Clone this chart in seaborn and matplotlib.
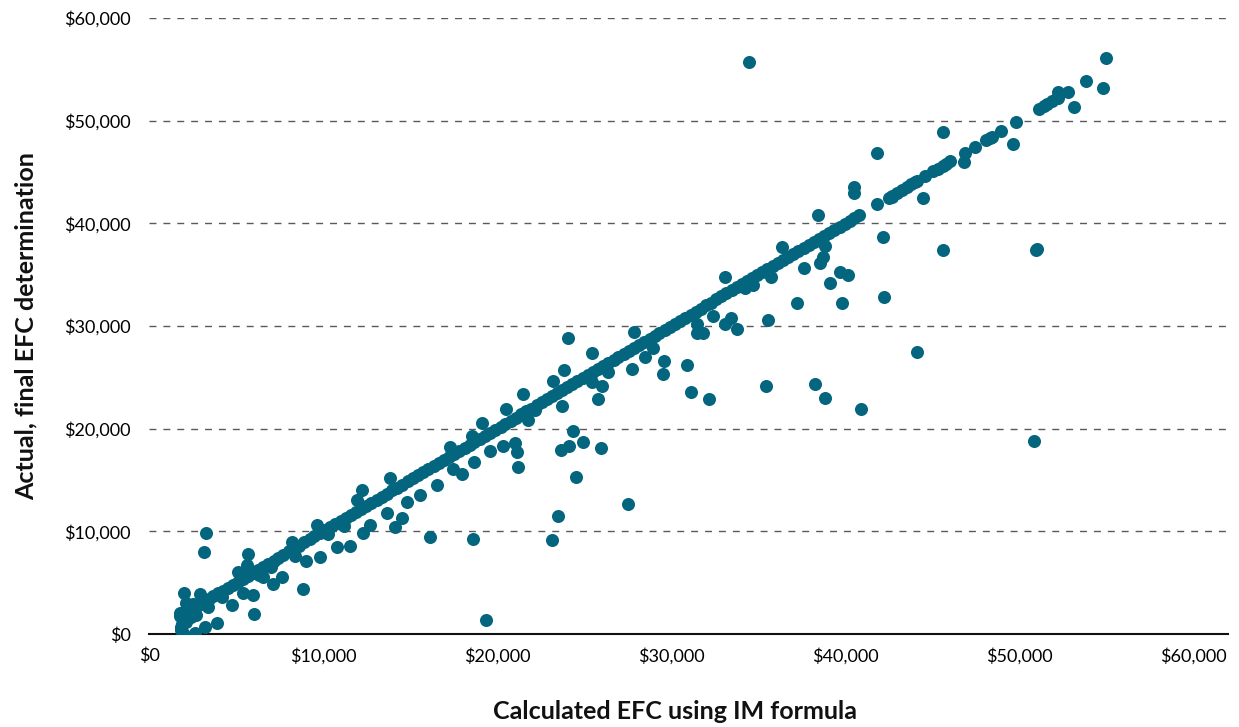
import matplotlib
matplotlib.use("Agg")
import matplotlib.pyplot as plt
import matplotlib.ticker
import seaborn as sns
import pandas as pd

# cases where the final EFC equals the IM formula EFC (points on the diagonal)
matched_efc = [
    1800, 1950, 2080, 2230, 2370, 2560, 2740, 2950, 3180, 3420, 3690, 3950,
    4230, 4520, 4800, 5090, 5400, 5680, 5960, 6270, 6550, 6850, 7160, 7430,
    7720, 8040, 8330, 8610, 8920, 9230, 9500, 9800, 10120, 10400, 10690, 11010,
    11300, 11580, 11900, 12190, 12470, 12780, 13090, 13380, 13660, 13980,
    14270, 14550, 14860, 15170, 15450, 15760, 16040, 16350, 16640, 16930,
    17240, 17530, 17810, 18130, 18420, 18700, 19010, 19320, 19600, 19890,
    20200, 20480, 20790, 21080, 21390, 21680, 21960, 22270, 22560, 22850,
    23160, 23450, 23730, 24040, 24330, 24620, 24930, 25210, 25520, 25800,
    26090, 26400, 26690, 26970, 27280, 27570, 27860, 28170, 28450, 28760,
    29050, 29330, 29640, 29930, 30220, 30530, 30810, 31120, 31410, 31700,
    32010, 32290, 32600, 32880, 33170, 33480, 33770, 34060, 34370, 34650,
    34960, 35240, 35530, 35840, 36130, 36420, 36730, 37010, 37320, 37610,
    37900, 38210, 38490, 38800, 39090, 39380, 39690, 39970, 40260, 40500,
    40800, 41840, 42500, 42700, 43000, 43250, 43560, 43800, 44000, 44140,
    44600, 45060, 45340, 45630, 45820, 46030, 46900, 47470, 48100, 48300,
    48450, 48970, 49830, 51150, 51400, 51610, 51900, 52240, 53850,
]

# cases where the two EFC values differ
calc_efc = [
    1780, 1850, 1900, 1950, 2000, 2010, 2100, 2200, 2300, 2400, 2640, 2930,
    3160, 3220, 3280, 3910, 4770, 5110, 5400, 5630, 5690, 5980, 6030, 6550,
    7130, 7640, 8220, 8850, 9020, 9660, 9830, 10800, 11550, 11950, 12240,
    12300, 12700, 13680, 13850, 14140, 14540, 14830, 15570, 16150, 16550,
    17300, 17470, 17990, 18560, 18620, 18680, 19140, 19370, 19600, 20340,
    20520, 21030, 21150, 21200, 21490, 21780, 22180, 23160, 23220, 23500,
    23680, 23740, 23850, 24080, 24140, 24370, 24540, 24940, 25460, 25460,
    25800, 25980, 26030, 26380, 27530, 27760, 27870, 28510, 28970, 29540,
    29600, 30920, 31150, 31490, 31490, 31840, 32180, 32410, 33100, 33100,
    33450, 33790, 34250, 34490, 34710, 35460, 35570, 35750, 36380, 37240,
    37640, 38280, 38450, 38560, 38740, 38850, 38850, 39140, 39710, 39830,
    40170, 40520, 40520, 40920, 41840, 42180, 42240, 42700, 44140, 44480,
    45630, 45630, 46840, 49660, 50860, 50980, 51000, 52180, 52240, 52820,
    53160, 54830, 55000,
    1820, 2150, 2500, 2700, 3400, 4200, 6300, 7000, 8400, 10300, 11200,
]
actual_efc = [
    2040, 400, 1000, 100, 1500, 3990, 3000, 2600, 2100, 1700, 100, 3900,
    7980, 680, 9830, 1070, 2820, 6040, 3990, 6720, 7790, 3800, 1950, 5550,
    4870, 5550, 8960, 4380, 7110, 10610, 7500, 8470, 8570, 13050, 14020,
    9830, 10610, 11780, 15190, 10420, 11290, 12850, 13530, 9440, 14510,
    18210, 16070, 15580, 19280, 9250, 16750, 20550, 1360, 17820, 18310,
    21900, 18600, 17720, 16260, 23370, 20840, 21810, 9150, 24640, 11490,
    17920, 22200, 25710, 28820, 18310, 19770, 15290, 18700, 24540, 27360,
    22880, 18110, 24150, 25510, 12660, 25800, 29400, 26970, 27850, 25320,
    26580, 26190, 23560, 29310, 30180, 29310, 22880, 30960, 30180, 34760,
    30770, 29700, 33690, 55700, 33980, 24150, 30570, 34760, 37680, 32230,
    35640, 24340, 40800, 36120, 36710, 37780, 22980, 34180, 35250, 32230,
    34960, 43530, 42940, 21910, 46840, 38660, 32810, 42550, 27460, 42450,
    37390, 48880, 45960, 47710, 18790, 37390, 37500, 52190, 52780, 52780,
    51320, 53170, 56090,
    700, 1200, 2900, 1900, 2600, 3600, 5700, 6500, 7600, 9700, 10500,
]

x_ticks = [0, 10000, 20000, 30000, 40000, 50000, 60000]
y_ticks = [0, 10000, 20000, 30000, 40000, 50000, 60000]

df = pd.DataFrame({
    "calculated": matched_efc + calc_efc,
    "actual": matched_efc + actual_efc,
})

sns.set_style("white")
plt.rcParams["font.family"] = ["Lato", "DejaVu Sans"]

fig = plt.figure(figsize=(12.39, 7.27), dpi=100)
ax = fig.add_axes([0.1203, 0.1279, 0.8708, 0.8473])

sns.scatterplot(data=df, x="calculated", y="actual", color="#03657e",
                s=88, linewidth=0, ax=ax, zorder=3)

ax.set_xlim(0, 62000)
ax.set_ylim(0, 60000)
ax.set_xticks(x_ticks)
ax.set_yticks(y_ticks)
money = matplotlib.ticker.FuncFormatter(lambda v, p: "${:,}".format(int(v)))
ax.xaxis.set_major_formatter(money)
ax.yaxis.set_major_formatter(money)
ax.tick_params(axis="both", length=0, labelsize=13, colors="#000000")
ax.tick_params(axis="y", pad=13)
ax.tick_params(axis="x", pad=10)

ax.yaxis.grid(True, linestyle=(0, (5, 5)), color="#5a5a5a", linewidth=1)
ax.xaxis.grid(False)
for side in ["top", "right", "left"]:
    ax.spines[side].set_visible(False)
ax.spines["bottom"].set_color("#111111")
ax.spines["bottom"].set_linewidth(1.5)

ax.set_xlabel("Calculated EFC using IM formula", fontsize=18, fontweight="bold",
              color="#111111")
ax.set_ylabel("Actual, final EFC determination", fontsize=18, fontweight="bold",
              color="#111111")
ax.xaxis.set_label_coords(0.4875, -0.107)
ax.yaxis.set_label_coords(-0.103, 0.5)

plt.savefig("out.png", dpi=100)
